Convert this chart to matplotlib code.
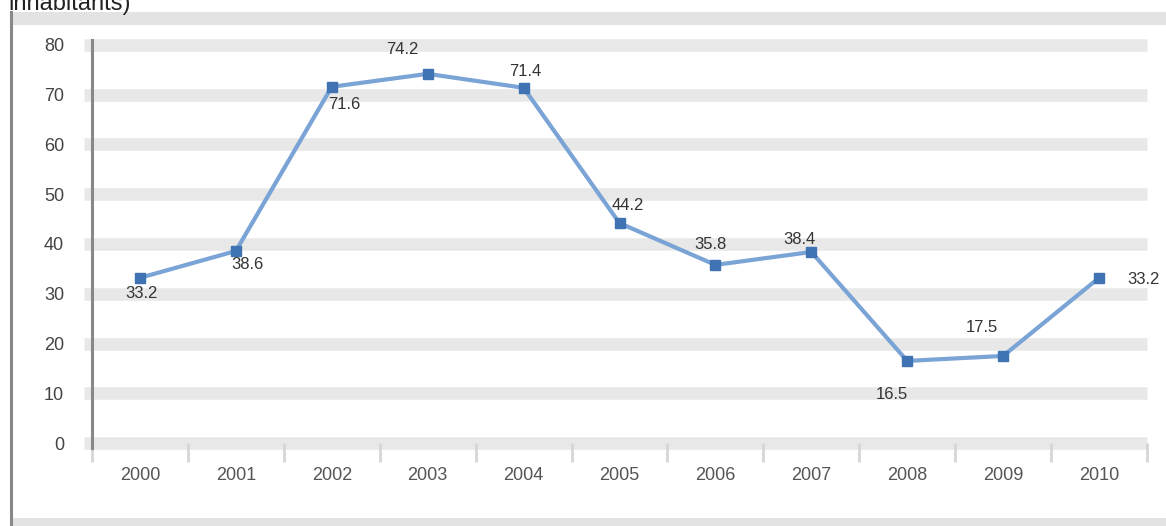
import matplotlib
matplotlib.use('Agg')
import matplotlib.pyplot as plt
from matplotlib.lines import Line2D
from matplotlib.patches import Rectangle

plt.rcParams['font.family'] = ['Liberation Sans', 'DejaVu Sans']

years = ['2000', '2001', '2002', '2003', '2004', '2005', '2006', '2007', '2008', '2009', '2010']
rate = [33.2, 38.6, 71.6, 74.2, 71.4, 44.2, 35.8, 38.4, 16.5, 17.5, 33.2]
y_ticks = [0, 10, 20, 30, 40, 50, 60, 70, 80]
# where each value label sits relative to its point (pixels)
label_offsets = [(2, -16), (12, -14), (12, -18), (-25, 24), (2, 16), (8, 18),
                 (-5, 20), (-12, 12), (-15, -34), (-21, 28), (44, -2)]

W, H = 1166, 526
fig = plt.figure(figsize=(W / 100, H / 100), dpi=100)

# outer panel frame
fig.add_artist(Rectangle((10 / W, 1 - 25 / H), 1, 13 / H, transform=fig.transFigure,
                         facecolor='#e3e3e3', edgecolor='none'))
fig.add_artist(Rectangle((10 / W, 0), 1, 8 / H, transform=fig.transFigure,
                         facecolor='#e3e3e3', edgecolor='none'))
fig.add_artist(Line2D([11 / W, 11 / W], [0, 1 - 12 / H], transform=fig.transFigure,
                      color='#888888', linewidth=2.2))
fig.text(8 / W, 1 - 10 / H, 'inhabitants)', fontsize=17, color='#222222', va='baseline')

ax = fig.add_axes([92 / W, 1 - 443 / H, 1055 / W, 398 / H])
x = list(range(len(years)))
ax.set_xlim(-0.5, len(years) - 0.5)
ax.set_ylim(0, 80)

for v in y_ticks:
    ax.axhline(v, xmin=-0.0076, xmax=1, color='#e8e8e8', linewidth=9, clip_on=False,
               zorder=0, solid_capstyle='butt')

ax.plot(x, rate, color='#7aa3d6', linewidth=3, marker='s', markersize=7,
        markerfacecolor='#3f73b3', markeredgecolor='#3f73b3', zorder=3, clip_on=False)
for xi, v, (dx, dy) in zip(x, rate, label_offsets):
    ax.annotate(f'{v:.1f}', (xi, v), xytext=(dx, dy), textcoords='offset pixels',
                ha='center', va='center', fontsize=12, color='#333333', annotation_clip=False)

for s in ['top', 'right', 'bottom']:
    ax.spines[s].set_visible(False)
ax.spines['left'].set_color('#888888')
ax.spines['left'].set_linewidth(2.2)
ax.spines['left'].set_bounds(-1, 81)

ax.set_yticks(y_ticks)
ax.set_yticklabels([str(v) for v in y_ticks])
ax.tick_params(axis='y', length=0, pad=20, labelsize=13, labelcolor='#444444')
ax.set_xticks(x)
ax.set_xticklabels(years)
ax.tick_params(axis='x', which='major', length=0, pad=17, labelsize=13, labelcolor='#555555')
ax.set_xticks([i - 0.5 for i in range(len(years) + 1)], minor=True)
ax.tick_params(axis='x', which='minor', length=14, width=2, color='#d6d6d6', direction='out')

fig.savefig('out.png', dpi=100)
